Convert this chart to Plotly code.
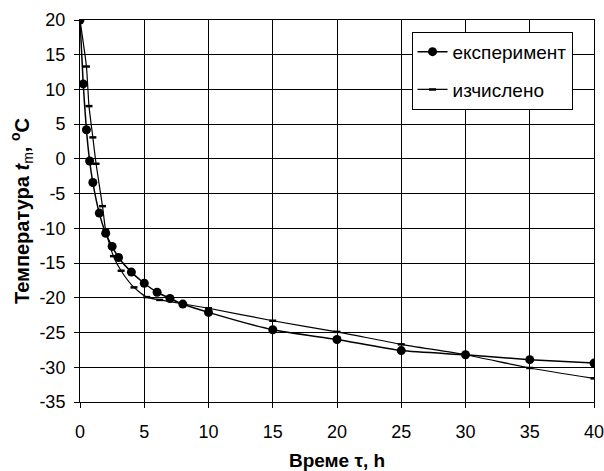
import plotly.graph_objects as go

# Experimental data
t_exp = [0, 0.25, 0.5, 0.75, 1, 1.5, 2, 2.5, 3, 4, 5, 6, 7, 8, 10, 15, 20, 25, 30, 35, 40]
T_exp = [20, 10.8, 4.2, -0.3, -3.4, -7.8, -10.7, -12.6, -14.2, -16.3, -17.9, -19.2, -20.1, -20.9,
         -22.1, -24.6, -26.0, -27.6, -28.2, -28.9, -29.4]

# Calculated data
t_calc = [0, 0.5, 0.7, 1.0, 1.25, 1.75, 2.0, 2.6, 3.2, 4.2, 5.2, 6.2, 10, 15, 20, 25, 30, 35, 40]
T_calc = [20, 13.3, 7.6, 3.1, -0.7, -6.8, -10.3, -14.0, -16.1, -18.5, -19.9, -20.3, -21.5,
          -23.3, -24.9, -26.7, -28.2, -30.1, -31.6]

# Tick labels
x_ticks = [0, 5, 10, 15, 20, 25, 30, 35, 40]
y_ticks = [20, 15, 10, 5, 0, -5, -10, -15, -20, -25, -30, -35]
y_ticktext = [str(v) for v in y_ticks]  # plain hyphen minus

FONT = "Liberation Sans, Arial, sans-serif"

fig = go.Figure()
fig.add_trace(go.Scatter(
    x=t_exp, y=T_exp, name="експеримент", mode="lines+markers", legendgroup="a",
    line=dict(color="black", width=1.5, shape="spline", smoothing=0.6),
    marker=dict(symbol="circle", size=9, color="black"),
))
fig.add_trace(go.Scatter(
    x=t_calc, y=T_calc, name="изчислено", mode="lines+markers", legendgroup="b",
    line=dict(color="black", width=1.2, shape="spline", smoothing=0.6),
    marker=dict(symbol="line-ew", size=5, color="black", line=dict(color="black", width=2.5)),
))

axis_common = dict(
    showline=True, linecolor="black", linewidth=1, mirror=True,
    showgrid=True, gridcolor="black", gridwidth=1,
    ticks="outside", ticklen=5, tickcolor="black", tickwidth=1,
    zeroline=False, automargin=False, ticklabeloverflow="allow",
    tickfont=dict(family=FONT, size=18, color="black"),
)

fig.update_layout(
    width=604, height=471,
    margin=dict(l=80, r=10, t=20, b=69),
    paper_bgcolor="white", plot_bgcolor="white",
    font=dict(family=FONT, size=18, color="black"),
    xaxis=dict(range=[0, 40], tickvals=x_ticks, ticktext=[str(v) for v in x_ticks],
               ticklabelstandoff=8,
               title=dict(text="<b>Време τ, h</b>", font=dict(family=FONT, size=19), standoff=14),
               **axis_common),
    yaxis=dict(range=[-35, 20], tickvals=y_ticks, ticktext=y_ticktext,
               ticklabelstandoff=5,
               title=dict(text="<b>Температура <i>t</i></b><sub>m</sub><b>, <sup>o</sup>C</b>",
                          font=dict(family=FONT, size=20), standoff=4),
               **axis_common),
    legend=dict(x=0.645, y=0.969, xanchor="left", yanchor="top",
                bgcolor="white", bordercolor="black", borderwidth=1,
                font=dict(family=FONT, size=19, color="black"),
                tracegroupgap=10),
    showlegend=True,
)

fig.write_html("out.html")
